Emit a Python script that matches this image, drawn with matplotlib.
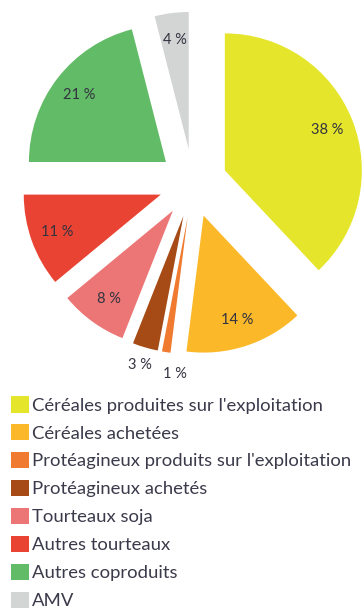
import numpy as np
import matplotlib.pyplot as plt
from matplotlib.patches import Patch

plt.rcParams['font.family'] = ['Lato', 'DejaVu Sans']

# Répartition des concentrés
categories = ["Céréales produites sur l'exploitation",
              "Céréales achetées",
              "Protéagineux produits sur l'exploitation",
              "Protéagineux achetés",
              "Tourteaux soja",
              "Autres tourteaux",
              "Autres coproduits",
              "AMV"]
valeurs = [38, 14, 1, 3, 8, 11, 21, 4]
couleurs = ['#E5E62B', '#FBB829', '#F07A30', '#A64B16',
            '#EC7676', '#E94333', '#62BB66', '#D3D4D4']

W, H = 362, 612
fig = plt.figure(figsize=(W / 100, H / 100), dpi=100)

# zone du camembert : 137 px par unité de rayon, centre à (193, 183) px
r_px = 137
cx, cy = 193, 183
haut = 380
ax = fig.add_axes([0, (H - haut) / H, 1, haut / H])

wedges, texts, autotexts = ax.pie(
    valeurs, colors=couleurs, startangle=90, counterclock=False,
    explode=[0.25] * len(valeurs), radius=1,
    autopct=lambda p: '%d %%' % round(p), pctdistance=0.78,
    textprops=dict(fontsize=10.5, color='#333340'),
    wedgeprops=dict(linewidth=0))

# les petites parts ont leur étiquette à l'extérieur
for w, t, v in zip(wedges, autotexts, valeurs):
    a = np.deg2rad((w.theta1 + w.theta2) / 2)
    d = 1.13 if v < 4 else 0.8
    if v == 1:
        d = 1.16
    t.set_position((w.center[0] + d * np.cos(a), w.center[1] + d * np.sin(a)))
    t.set_ha('left' if v == 1 else 'center')
    t.set_va('center')

ax.set_aspect('auto')
ax.set_xlim(-cx / r_px, (W - cx) / r_px)
ax.set_ylim(-(haut - cy) / r_px, cy / r_px)
ax.axis('off')

handles = [Patch(facecolor=c, edgecolor='none') for c in couleurs]
fig.legend(handles, categories, loc='upper left',
           bbox_to_anchor=(11 / W, 1 - 396 / H), frameon=False,
           fontsize=13.3, labelcolor='#3A3A4A',
           handlelength=1.0, handleheight=1.0, handletextpad=0.12,
           labelspacing=0.56, borderpad=0, borderaxespad=0)

fig.savefig('out.png', dpi=100)
